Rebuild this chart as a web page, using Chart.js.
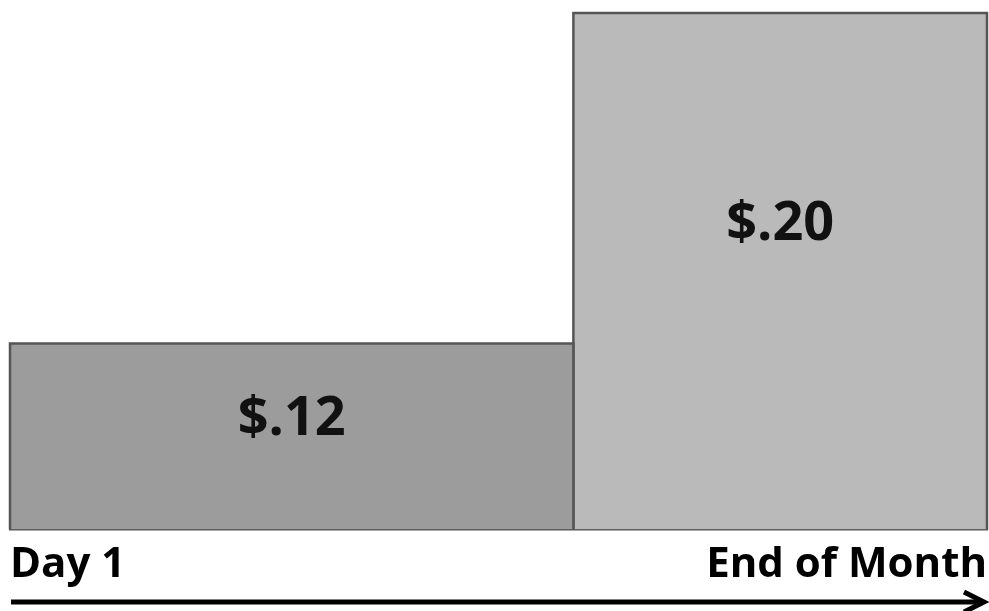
<!DOCTYPE html>
<html>
<head>
<meta charset="utf-8">
<script src="https://cdn.jsdelivr.net/npm/chart.js@4/dist/chart.umd.min.js"></script>
<style>
  html, body { margin: 0; padding: 0; background: #ffffff; }
  canvas { display: block; }
</style>
</head>
<body>
<canvas id="c" width="989" height="611"></canvas>
<script>
// ---- data ----
const periodLabels = ['Day 1', 'End of Month'];   // axis tick labels
const boundaryDays = [0, 17.3, 30];                // period boundaries (days)
const prices = [0.12, 0.20];                       // price per period
const priceLabels = ['$.12', '$.20'];
const Y_MIN = 0.075;                               // axis baseline
const Y_MAX = 0.20;

const fills = ['#9c9c9c', '#bababa'];

const datasets = prices.map((p, i) => ({
  label: priceLabels[i],
  data: [
    { x: boundaryDays[i], y: Y_MIN },
    { x: boundaryDays[i], y: p },
    { x: boundaryDays[i + 1], y: p },
    { x: boundaryDays[i + 1], y: Y_MIN }
  ],
  tension: 0,
  pointRadius: 0,
  pointHoverRadius: 0,
  pointBorderWidth: 0,
  borderColor: '#555555',
  borderWidth: 2.5,
  backgroundColor: fills[i],
  fill: 'origin',
  clip: false
}));

const labelPlugin = {
  id: 'labels',
  afterDatasetsDraw(chart) {
    const ctx = chart.ctx;
    const xs = chart.scales.x, ys = chart.scales.y;
    ctx.save();
    ctx.fillStyle = '#111111';
    ctx.font = 'bold 54px "Open Sans"';
    ctx.textAlign = 'center';
    ctx.textBaseline = 'middle';
    prices.forEach((p, i) => {
      const cx = (xs.getPixelForValue(boundaryDays[i]) + xs.getPixelForValue(boundaryDays[i + 1])) / 2;
      const top = ys.getPixelForValue(p), bot = ys.getPixelForValue(Y_MIN);
      ctx.fillText(priceLabels[i], cx, top + 0.41 * (bot - top));
    });
    ctx.restore();
  }
};

const arrowPlugin = {
  id: 'arrow',
  afterDraw(chart) {
    const ctx = chart.ctx;
    const a = chart.chartArea;
    const y = 602;
    const x0 = a.left + 1, x1 = chart.width - 3;
    ctx.save();
    ctx.strokeStyle = '#000000';
    ctx.lineWidth = 5;
    ctx.beginPath();
    ctx.moveTo(x0, y);
    ctx.lineTo(x1 - 3, y);
    ctx.stroke();
    ctx.lineWidth = 5;
    ctx.lineJoin = 'miter';
    ctx.lineCap = 'butt';
    ctx.beginPath();
    ctx.moveTo(x1 - 22, y - 10);
    ctx.lineTo(x1 - 2, y);
    ctx.lineTo(x1 - 22, y + 10);
    ctx.stroke();
    ctx.restore();
  }
};

new Chart(document.getElementById('c'), {
  type: 'line',
  data: { datasets },
  options: {
    responsive: false,
    animation: false,
    layout: { padding: { left: 10, right: 2, top: 13, bottom: 11 } },
    plugins: { legend: { display: false }, tooltip: { enabled: false } },
    scales: {
      x: {
        type: 'linear',
        min: boundaryDays[0],
        max: boundaryDays[boundaryDays.length - 1],
        afterBuildTicks(scale) {
          scale.ticks = [{ value: boundaryDays[0] }, { value: boundaryDays[boundaryDays.length - 1] }];
        },
        afterFit(scale) {
          scale.paddingLeft = 0;
          scale.paddingRight = 0;
        },
        ticks: {
          callback: (v) => v === boundaryDays[0] ? periodLabels[0] : periodLabels[1],
          align: 'inner',
          color: '#000000',
          padding: 10,
          maxRotation: 0,
          font: { family: '"Open Sans"', size: 42, weight: 'bold', lineHeight: 1.2 }
        },
        grid: { display: false, drawTicks: false },
        border: { display: true, color: '#555555', width: 2.5 }
      },
      y: {
        display: false,
        min: Y_MIN,
        max: Y_MAX
      }
    }
  },
  plugins: [labelPlugin, arrowPlugin]
});
</script>
</body>
</html>
